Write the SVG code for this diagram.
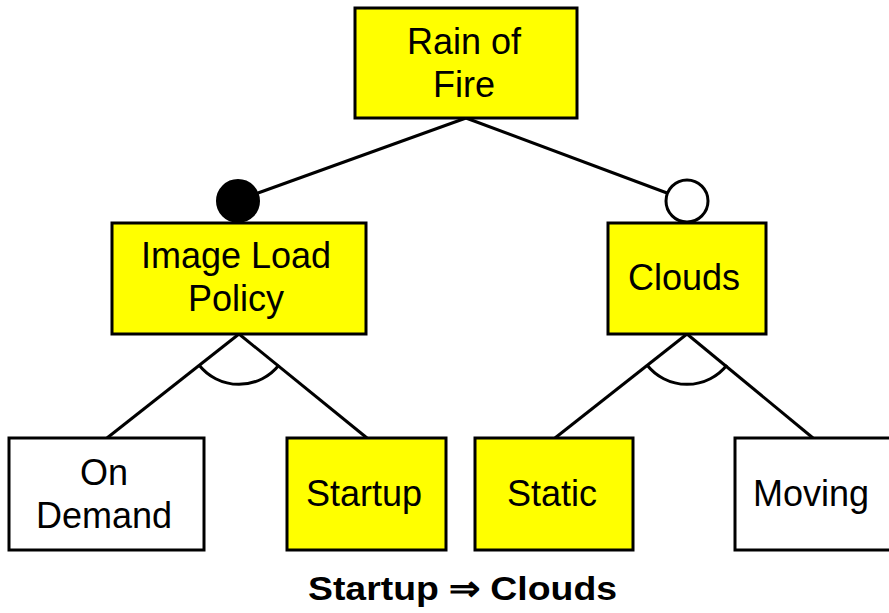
<svg xmlns="http://www.w3.org/2000/svg" width="889" height="613" viewBox="0 0 889 613">
<style>
.box{stroke:#000;stroke-width:3}
.sel{fill:#ffff00}
.un{fill:#fff}
.lbl{font-family:"Liberation Sans",Arial,sans-serif;font-size:36px;fill:#000;text-anchor:middle}
.cap{font-family:"Liberation Sans",Arial,sans-serif;font-size:34px;font-weight:bold;fill:#000}
.edge{stroke:#000;stroke-width:3;fill:none}
</style>
<rect width="889" height="613" fill="#fff"/>
<g id="connectors">
<line class="edge" x1="466" y1="118" x2="258" y2="193"/>
<line class="edge" x1="466" y1="118" x2="667" y2="193"/>
<line class="edge" x1="239" y1="334" x2="107" y2="438"/>
<line class="edge" x1="239" y1="334" x2="367" y2="438"/>
<path class="edge" d="M199,365 A51,51 0 0 0 279,365"/>
<line class="edge" x1="687" y1="334" x2="555" y2="438"/>
<line class="edge" x1="687" y1="334" x2="813" y2="438"/>
<path class="edge" d="M647,365 A51,51 0 0 0 727,365"/>
<circle cx="238" cy="201" r="21" fill="#000" stroke="#000" stroke-width="2"/>
<circle cx="687" cy="201" r="21" fill="#fff" stroke="#000" stroke-width="3"/>
</g>
<g id="rain-of-fire">
<rect class="box sel" x="355" y="8" width="222" height="110"/>
<text class="lbl" x="464" y="54">Rain of</text>
<text class="lbl" x="464" y="97">Fire</text>
</g>
<g id="image-load-policy">
<rect class="box sel" x="112" y="223" width="254" height="111"/>
<text class="lbl" x="236" y="268">Image Load</text>
<text class="lbl" x="236" y="311">Policy</text>
</g>
<g id="clouds">
<rect class="box sel" x="608" y="223" width="158" height="111"/>
<text class="lbl" x="684" y="290">Clouds</text>
</g>
<g id="on-demand">
<rect class="box un" x="9" y="438" width="195" height="112"/>
<text class="lbl" x="104" y="485">On</text>
<text class="lbl" x="104" y="528">Demand</text>
</g>
<g id="startup">
<rect class="box sel" x="287" y="438" width="159" height="112"/>
<text class="lbl" x="364" y="506">Startup</text>
</g>
<g id="static">
<rect class="box sel" x="475" y="438" width="158" height="112"/>
<text class="lbl" x="552" y="506">Static</text>
</g>
<g id="moving">
<rect class="box un" x="735" y="438" width="158" height="112"/>
<text class="lbl" x="811" y="506">Moving</text>
</g>
<text class="cap" x="308" y="600" textLength="309" lengthAdjust="spacingAndGlyphs">Startup ⇒ Clouds</text>
</svg>
